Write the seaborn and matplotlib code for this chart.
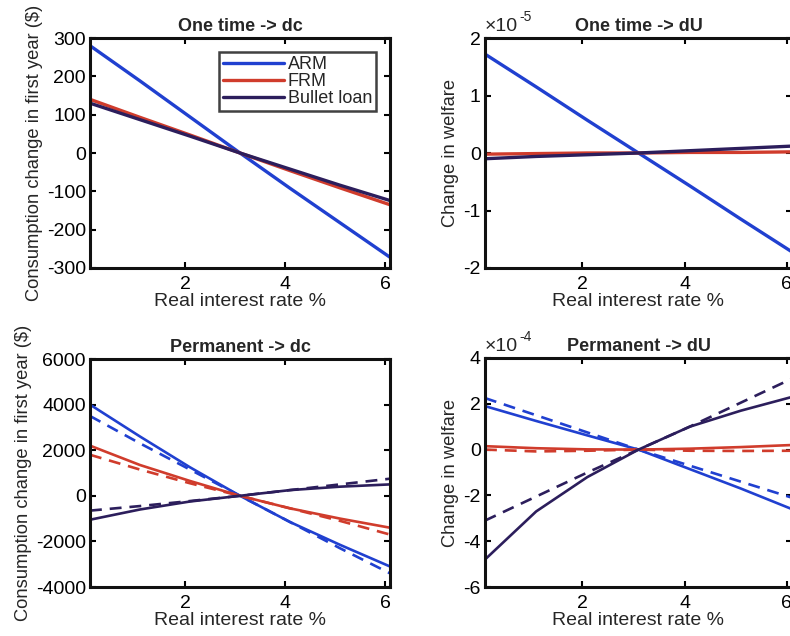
import numpy as np
import pandas as pd
import matplotlib
matplotlib.use("Agg")
import matplotlib.pyplot as plt
import seaborn as sns
from matplotlib.ticker import FuncFormatter

rate = [0.1, 1.1, 2.1, 3.1, 4.1, 5.1, 6.1]
loans = ["ARM", "FRM", "Bullet loan"]

# One time -> dc
ot_dc_arm = [280, 188, 94, 0, -92, -182, -272]
ot_dc_frm = [140, 93, 47, 0, -46, -91, -135]
ot_dc_bul = [130, 87, 44, 0, -42, -84, -124]

# One time -> dU (x1e-5)
ot_du_arm = [1.72, 1.15, 0.57, 0.0, -0.57, -1.15, -1.72]
ot_du_frm = [-0.02, -0.01, 0.0, 0.0, 0.01, 0.01, 0.02]
ot_du_bul = [-0.10, -0.06, -0.03, 0.0, 0.04, 0.08, 0.12]

# Permanent -> dc (solid / dashed)
pm_dc_arm = [4000, 2600, 1250, 0, -1150, -2150, -3100]
pm_dc_frm = [2200, 1350, 650, 0, -550, -1000, -1400]
pm_dc_bul = [-1050, -600, -250, 0, 250, 400, 500]
pm_dc_arm_d = [3500, 2300, 1150, 0, -1150, -2300, -3400]
pm_dc_frm_d = [1800, 1150, 550, 0, -550, -1100, -1700]
pm_dc_bul_d = [-650, -450, -230, 0, 250, 500, 750]

# Permanent -> dU (x1e-4)
pm_du_arm = [1.9, 1.25, 0.62, 0.0, -0.85, -1.7, -2.6]
pm_du_frm = [0.15, 0.06, 0.01, 0.0, 0.04, 0.11, 0.2]
pm_du_bul = [-4.8, -2.7, -1.2, 0.0, 1.0, 1.7, 2.3]
pm_du_arm_d = [2.25, 1.5, 0.75, 0.0, -0.7, -1.4, -2.1]
pm_du_frm_d = [0.0, -0.08, -0.05, 0.0, -0.05, -0.06, -0.05]
pm_du_bul_d = [-3.1, -2.05, -1.0, 0.0, 1.0, 2.05, 3.1]

colors = {"ARM": "#2040d0", "FRM": "#d03c2c", "Bullet loan": "#2c1e5c"}


def frame(series, style):
    rows = []
    for name, vals in zip(loans, series):
        for x, v in zip(rate, vals):
            rows.append({"rate": x, "value": v, "loan": name, "kind": style})
    return pd.DataFrame(rows)


sns.set_style("white")
plt.rcParams["font.family"] = ["Liberation Sans", "DejaVu Sans"]
plt.rcParams["axes.unicode_minus"] = False

fig = plt.figure(figsize=(7.9, 6.36), dpi=100)

W = 790.0
H = 636.0


def make_ax(l, r, t, b):
    return fig.add_axes([l / W, 1 - b / H, (r - l) / W, (b - t) / H])


ax1 = make_ax(90, 390, 38, 268)
ax2 = make_ax(485, 792, 38, 268)
ax3 = make_ax(90, 390, 359, 587)
ax4 = make_ax(485, 792, 358, 587)

s5 = 1e-5
s4 = 1e-4
d1 = frame([ot_dc_arm, ot_dc_frm, ot_dc_bul], "solid")
d2 = frame([np.array(ot_du_arm) * s5, np.array(ot_du_frm) * s5, np.array(ot_du_bul) * s5], "solid")
d3 = pd.concat([frame([pm_dc_arm, pm_dc_frm, pm_dc_bul], "solid"),
                frame([pm_dc_arm_d, pm_dc_frm_d, pm_dc_bul_d], "dashed")])
d4 = pd.concat([frame([np.array(pm_du_arm) * s4, np.array(pm_du_frm) * s4, np.array(pm_du_bul) * s4], "solid"),
                frame([np.array(pm_du_arm_d) * s4, np.array(pm_du_frm_d) * s4, np.array(pm_du_bul_d) * s4], "dashed")])

dashes = {"solid": "", "dashed": (4.5, 3)}

sns.lineplot(data=d1, x="rate", y="value", hue="loan", palette=colors, lw=2.4, ax=ax1, legend=True)
sns.lineplot(data=d2, x="rate", y="value", hue="loan", palette=colors, lw=2.4, ax=ax2, legend=False)
sns.lineplot(data=d3, x="rate", y="value", hue="loan", style="kind", dashes=dashes,
             palette=colors, lw=1.9, ax=ax3, legend=False)
sns.lineplot(data=d4, x="rate", y="value", hue="loan", style="kind", dashes=dashes,
             palette=colors, lw=1.9, ax=ax4, legend=False)

titles = ["One time -> dc", "One time -> dU", "Permanent -> dc", "Permanent -> dU"]
ylims = [(-300, 300), (-2e-5, 2e-5), (-4000, 6000), (-6e-4, 4e-4)]
yticks = [np.arange(-300, 301, 100), np.arange(-2, 2.01, 1) * s5,
          np.arange(-4000, 6001, 2000), np.arange(-6, 4.01, 2) * s4]
ylabels = ["Consumption change in first year (\\$)", "Change in welfare",
           "Consumption change in first year (\\$)", "Change in welfare"]

for ax, t, yl, yt, ylab in zip([ax1, ax2, ax3, ax4], titles, ylims, yticks, ylabels):
    ax.set_xlim(0.1, 6.1)
    ax.set_ylim(*yl)
    ax.set_xticks([2, 4, 6])
    ax.set_yticks(yt)
    ax.set_title(t, fontsize=13, fontweight="bold", pad=5)
    ax.set_xlabel("Real interest rate %", fontsize=14, labelpad=0)
    ax.set_ylabel(ylab, fontsize=13.2, labelpad=3)
    ax.tick_params(direction="in", length=4, width=1.5, labelsize=14,
                   top=True, right=True, bottom=True, left=True, pad=3, colors="black")
    ax.tick_params(axis="x", pad=6)
    for s in ax.spines.values():
        s.set_visible(True)
        s.set_linewidth(2.2)
        s.set_color("#111111")

for ax, sc, ex in [(ax2, s5, "-5"), (ax4, s4, "-4")]:
    ax.yaxis.set_major_formatter(FuncFormatter(lambda v, p, sc=sc: "%g" % round(v / sc, 6)))
    ax.text(0.0, 1.015, "\u00d710", transform=ax.transAxes, fontsize=14,
            ha="left", va="bottom")
    ax.text(0.113, 1.06, ex, transform=ax.transAxes, fontsize=10,
            ha="left", va="bottom")

leg = ax1.legend(loc="upper right", fontsize=13, frameon=True, fancybox=False,
                 handlelength=3.4, borderpad=0.2, labelspacing=0.0, handletextpad=0.2,
                 borderaxespad=0.8)
leg.get_frame().set_edgecolor("#111111")
leg.get_frame().set_linewidth(1.8)
for line in leg.get_lines():
    line.set_linewidth(2.4)

fig.savefig("out.png", dpi=100)
